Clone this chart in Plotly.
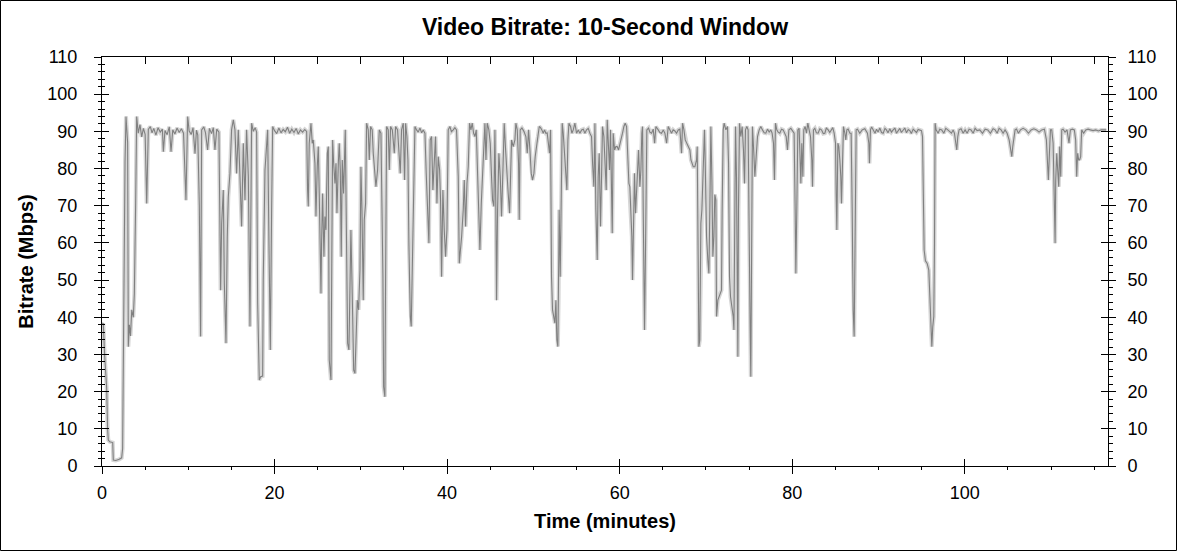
import plotly.graph_objects as go

# (minute, Mbps) pairs, split by time span
seg_00_24 = [
    (0.0, 38.0), (0.15, 38.4), (0.3, 30.0), (0.54, 21.0), (0.65, 10.0), (0.73, 7.0),
    (0.9, 6.5), (1.24, 6.3), (1.31, 1.6), (1.6, 1.5), (2.0, 1.8), (2.28, 2.2),
    (2.39, 4.7), (2.47, 33.0), (2.67, 82.0), (2.78, 94.0), (2.86, 90.0), (2.97, 87.0),
    (3.05, 32.1), (3.17, 38.0), (3.3, 35.0), (3.45, 42.0), (3.63, 40.0), (3.75, 46.4),
    (3.9, 70.6), (4.02, 94.0), (4.2, 89.5), (4.4, 91.8), (4.6, 88.5), (4.8, 90.8),
    (5.0, 89.2), (5.18, 70.6), (5.37, 90.5), (5.6, 91.3), (5.8, 89.6), (6.0, 90.8),
    (6.25, 89.0), (6.5, 91.0), (6.75, 89.8), (7.0, 90.6), (7.11, 84.5), (7.3, 90.2),
    (7.55, 89.1), (7.8, 91.2), (8.0, 84.5), (8.2, 90.4), (8.45, 89.3), (8.7, 90.9),
    (8.95, 89.7), (9.2, 90.7), (9.45, 89.5), (9.73, 71.5), (9.93, 94.0), (10.1, 90.1),
    (10.35, 89.2), (10.55, 91.0), (10.78, 84.0), (10.95, 90.3), (11.1, 89.0), (11.28, 70.0),
    (11.43, 34.8), (11.55, 90.4), (11.8, 91.2), (12.0, 89.6), (12.24, 85.0), (12.45, 90.8),
    (12.7, 89.4), (12.9, 91.0), (13.09, 85.0), (13.3, 90.6), (13.55, 89.8), (13.67, 70.0),
    (13.75, 47.3), (13.87, 65.3), (14.06, 74.2), (14.18, 49.1), (14.37, 33.0), (14.52, 61.7),
    (14.64, 72.4), (14.83, 78.7), (15.02, 90.4), (15.22, 93.1), (15.41, 90.4), (15.6, 78.7),
    (15.8, 90.4), (15.99, 77.8), (16.18, 64.4), (16.38, 86.8), (16.57, 71.5), (16.76, 90.4),
    (16.96, 77.8), (17.15, 37.5), (17.34, 92.2), (17.54, 90.0), (17.75, 91.0), (17.92, 89.8),
    (18.04, 44.0), (18.23, 23.1), (18.39, 24.0), (18.62, 24.2), (18.69, 50.0), (18.89, 79.6),
    (19.08, 87.7), (19.2, 90.4), (19.35, 59.9), (19.51, 31.2), (19.66, 69.0), (19.78, 91.3),
    (20.0, 90.2), (20.25, 89.4), (20.5, 90.9), (20.75, 89.6), (21.0, 90.5), (21.25, 89.9),
    (21.5, 91.1), (21.75, 89.5), (22.0, 90.6), (22.25, 89.7), (22.5, 90.8), (22.75, 89.3),
    (23.0, 90.4), (23.25, 89.8), (23.5, 90.5), (23.72, 90.0),
]

seg_24_48 = [
    (23.83, 74.2), (23.91, 69.8), (24.02, 86.8), (24.22, 92.2), (24.37, 86.8), (24.49, 87.7),
    (24.68, 81.4), (24.8, 67.1), (24.95, 80.5), (25.07, 85.9), (25.18, 73.3), (25.26, 59.0),
    (25.38, 46.4), (25.45, 59.9), (25.57, 73.3), (25.72, 56.3), (25.84, 67.1), (25.96, 63.5),
    (26.11, 84.1), (26.23, 85.9), (26.34, 28.5), (26.54, 23.1), (26.61, 53.6), (26.73, 87.7),
    (26.85, 81.4), (27.0, 76.0), (27.12, 81.4), (27.23, 68.0), (27.39, 81.4), (27.5, 86.8),
    (27.62, 79.6), (27.73, 56.3), (27.85, 82.3), (28.0, 73.3), (28.2, 90.4), (28.35, 61.7),
    (28.47, 33.0), (28.62, 31.2), (28.74, 46.4), (28.85, 63.5), (29.01, 45.5), (29.17, 25.8),
    (29.32, 24.9), (29.47, 37.5), (29.59, 44.6), (29.74, 42.0), (29.9, 52.7), (30.01, 80.5),
    (30.13, 68.9), (30.28, 44.6), (30.4, 66.2), (30.55, 70.6), (30.67, 92.2), (30.86, 90.4),
    (30.98, 82.3), (31.13, 91.3), (31.32, 90.4), (31.44, 84.1), (31.63, 79.6), (31.75, 75.1),
    (31.94, 79.6), (32.14, 90.4), (32.33, 89.5), (32.45, 68.9), (32.56, 50.9), (32.64, 21.3),
    (32.79, 18.6), (32.87, 50.9), (32.99, 91.3), (33.18, 90.4), (33.3, 79.6), (33.45, 91.3),
    (33.65, 90.4), (33.88, 84.1), (34.03, 91.3), (34.26, 90.4), (34.42, 85.0), (34.57, 78.7),
    (34.72, 90.4), (34.92, 92.2), (35.07, 76.9), (35.19, 92.2), (35.34, 88.6), (35.46, 82.3),
    (35.57, 59.9), (35.73, 40.2), (35.84, 37.5), (35.96, 50.9), (36.08, 73.3), (36.27, 91.3),
    (36.46, 90.4), (36.65, 89.8), (36.85, 90.9), (37.05, 89.6), (37.23, 90.4), (37.43, 89.5),
    (37.58, 78.7), (37.74, 67.1), (37.89, 59.9), (38.04, 87.7), (38.2, 88.6), (38.35, 74.2),
    (38.51, 84.1), (38.66, 88.6), (38.82, 70.6), (38.97, 83.2), (39.13, 79.6), (39.24, 71.5),
    (39.36, 50.9), (39.51, 74.2), (39.67, 63.5), (39.82, 56.3), (39.98, 63.5), (40.13, 90.4),
    (40.32, 91.3), (40.5, 89.9), (40.71, 90.4), (40.9, 91.0), (41.09, 90.4), (41.29, 77.8),
    (41.41, 54.5), (41.52, 57.2), (41.68, 61.7), (41.87, 68.9), (41.99, 76.9), (42.14, 64.4),
    (42.3, 76.0), (42.45, 80.5), (42.6, 92.2), (42.76, 90.4), (42.91, 92.2), (43.07, 89.5),
    (43.22, 88.6), (43.38, 90.4), (43.53, 77.8), (43.69, 65.3), (43.8, 58.1), (43.96, 70.6),
    (44.11, 77.8), (44.27, 85.0), (44.38, 92.2), (44.5, 82.3), (44.65, 92.2), (44.84, 90.4),
    (45.0, 86.8), (45.15, 77.8), (45.27, 71.5), (45.42, 69.8), (45.54, 90.4), (45.65, 68.9),
    (45.73, 44.6), (45.85, 68.9), (46.0, 84.1), (46.16, 77.8), (46.31, 67.1), (46.47, 79.6),
    (46.62, 92.2), (46.78, 85.0), (46.93, 77.8), (47.08, 73.3), (47.24, 68.0), (47.39, 77.8),
    (47.47, 87.7), (47.66, 85.9), (47.86, 87.7),
]

seg_48_71 = [
    (47.97, 92.2), (48.13, 90.4), (48.28, 81.4), (48.36, 66.2), (48.47, 90.4), (48.67, 90.9),
    (48.9, 90.0), (49.13, 88.6), (49.29, 84.1), (49.44, 90.4), (49.6, 85.0), (49.75, 78.7),
    (49.9, 76.9), (50.06, 78.7), (50.21, 83.2), (50.37, 86.8), (50.52, 88.6), (50.68, 91.3),
    (50.83, 91.0), (50.98, 90.4), (51.14, 89.5), (51.29, 90.4), (51.45, 89.5), (51.6, 89.6),
    (51.76, 85.9), (51.87, 84.1), (51.99, 90.4), (52.1, 50.9), (52.22, 42.0), (52.38, 40.2),
    (52.49, 38.4), (52.61, 44.6), (52.72, 33.9), (52.84, 32.1), (52.92, 44.6), (52.99, 68.9),
    (53.11, 50.9), (53.23, 73.3), (53.34, 92.2), (53.46, 89.5), (53.61, 84.1), (53.77, 77.8),
    (53.88, 74.2), (54.0, 87.7), (54.12, 92.2), (54.31, 91.3), (54.46, 89.5), (54.62, 90.4),
    (54.81, 92.2), (55.0, 89.5), (55.2, 90.4), (55.39, 89.5), (55.59, 90.4), (55.78, 90.6),
    (55.97, 89.5), (56.16, 90.4), (56.36, 90.8), (56.55, 89.5), (56.74, 88.6), (56.86, 81.4),
    (57.01, 75.1), (57.13, 92.2), (57.24, 68.9), (57.4, 55.4), (57.51, 77.8), (57.63, 84.1),
    (57.78, 64.4), (57.9, 77.8), (58.01, 91.3), (58.17, 88.6), (58.32, 82.3), (58.44, 74.2),
    (58.56, 93.1), (58.71, 85.0), (58.83, 79.6), (58.94, 90.4), (59.06, 77.8), (59.14, 62.6),
    (59.25, 89.5), (59.41, 85.0), (59.56, 85.9), (59.71, 85.9), (59.87, 85.0), (60.02, 86.8),
    (60.18, 88.6), (60.33, 89.5), (60.49, 91.3), (60.64, 92.2), (60.8, 91.3), (60.95, 82.3),
    (61.07, 76.0), (61.18, 75.1), (61.3, 68.9), (61.41, 61.7), (61.49, 50.0), (61.61, 68.9),
    (61.72, 78.7), (61.84, 68.0), (61.95, 72.4), (62.11, 78.7), (62.19, 85.0), (62.34, 75.1),
    (62.46, 79.6), (62.57, 89.5), (62.65, 91.3), (62.73, 68.9), (62.8, 50.9), (62.88, 36.6),
    (62.96, 50.9), (63.04, 77.8), (63.15, 90.4), (63.35, 90.9), (63.5, 89.8), (63.7, 89.5),
    (63.89, 90.6), (64.05, 86.8), (64.2, 91.3), (64.47, 90.4), (64.66, 89.7), (64.85, 89.5),
    (65.05, 90.4), (65.24, 89.5), (65.44, 86.8), (65.63, 91.3), (65.82, 90.4), (66.01, 89.5),
    (66.2, 90.4), (66.4, 90.1), (66.59, 89.5), (66.79, 90.4), (66.98, 90.6), (67.17, 84.1),
    (67.29, 92.2), (67.45, 90.4), (67.6, 87.7), (67.76, 86.8), (67.95, 85.9), (68.14, 85.0),
    (68.26, 82.3), (68.37, 81.4), (68.53, 80.5), (68.72, 80.5), (68.91, 82.3), (68.99, 85.9),
    (69.06, 53.6), (69.18, 32.1), (69.29, 33.9), (69.41, 65.3), (69.53, 68.9), (69.68, 82.3),
    (69.83, 90.4), (69.91, 82.3), (70.07, 61.7), (70.22, 55.4), (70.34, 51.8), (70.45, 68.9),
    (70.57, 91.3), (70.69, 76.9), (70.8, 56.3), (70.92, 61.7), (71.03, 73.0), (71.15, 71.5),
    (71.23, 40.2),
]

seg_71_95 = [
    (71.38, 44.6), (71.54, 45.5), (71.7, 46.5), (71.8, 47.3), (71.88, 68.9), (72.0, 90.4),
    (72.11, 92.2), (72.31, 90.4), (72.5, 91.3), (72.62, 81.4), (72.73, 50.9), (72.85, 45.5),
    (73.0, 42.9), (73.16, 40.2), (73.24, 36.6), (73.35, 68.9), (73.43, 91.3), (73.54, 77.8),
    (73.62, 49.1), (73.7, 29.4), (73.77, 68.9), (73.89, 92.2), (74.04, 88.6), (74.2, 91.3),
    (74.35, 85.0), (74.47, 76.0), (74.58, 90.4), (74.74, 91.3), (74.89, 90.4), (75.01, 50.9),
    (75.12, 37.5), (75.2, 24.0), (75.28, 59.9), (75.39, 91.3), (75.55, 84.1), (75.67, 77.8),
    (75.82, 83.2), (75.98, 88.6), (76.17, 90.4), (76.36, 91.3), (76.55, 90.4), (76.75, 89.6),
    (76.94, 89.5), (77.13, 90.6), (77.33, 89.8), (77.52, 90.4), (77.67, 89.5), (77.83, 86.8),
    (77.94, 76.9), (78.06, 92.2), (78.21, 90.4), (78.37, 89.8), (78.56, 89.5), (78.76, 90.6),
    (78.95, 90.4), (79.14, 89.5), (79.3, 88.6), (79.45, 85.0), (79.61, 90.4), (79.84, 90.8),
    (80.07, 89.8), (80.22, 89.5), (80.34, 68.9), (80.42, 51.8), (80.53, 68.9), (80.65, 90.4),
    (80.8, 90.8), (80.92, 79.6), (81.0, 76.0), (81.11, 86.8), (81.23, 77.8), (81.34, 90.4),
    (81.5, 91.3), (81.65, 89.5), (81.81, 92.2), (81.96, 90.4), (82.12, 88.6), (82.27, 82.3),
    (82.35, 75.1), (82.46, 90.4), (82.62, 90.8), (82.8, 89.6), (83.0, 89.5), (83.2, 90.7),
    (83.39, 90.4), (83.6, 89.4), (83.78, 89.5), (83.95, 90.9), (84.17, 90.4), (84.35, 89.7),
    (84.55, 90.4), (84.7, 91.0), (84.86, 89.5), (85.02, 86.8), (85.09, 73.3), (85.17, 63.5),
    (85.29, 86.8), (85.4, 85.9), (85.52, 82.3), (85.63, 77.8), (85.71, 70.6), (85.83, 86.8),
    (85.94, 91.3), (86.1, 89.5), (86.21, 87.7), (86.33, 90.4), (86.48, 90.6), (86.68, 89.5),
    (86.83, 89.5), (86.95, 68.9), (87.06, 42.0), (87.18, 34.8), (87.29, 59.9), (87.41, 90.4),
    (87.56, 90.6), (87.83, 89.5), (88.1, 90.4), (88.41, 90.7), (88.72, 89.5), (88.88, 86.8),
    (88.95, 81.4), (89.07, 90.4), (89.2, 91.2), (89.38, 90.4), (89.6, 89.5), (89.77, 90.6),
    (89.95, 89.8), (90.15, 90.9), (90.35, 89.7), (90.54, 89.5), (90.75, 90.8), (90.92, 90.4),
    (91.1, 89.6), (91.31, 90.7), (91.5, 89.8), (91.7, 90.4), (91.9, 90.9), (92.08, 89.5),
    (92.3, 90.3), (92.47, 90.8), (92.65, 89.7), (92.86, 90.4), (93.05, 90.9), (93.24, 89.6),
    (93.45, 90.5), (93.63, 90.2), (93.8, 89.4), (94.02, 90.6), (94.2, 90.1), (94.4, 89.7),
    (94.6, 90.5), (94.79, 90.4), (94.98, 90.2), (95.1, 88.6),
]

seg_95_117 = [
    (95.17, 68.9), (95.29, 58.1), (95.44, 55.2), (95.64, 54.5), (95.83, 52.7), (95.94, 45.5),
    (96.06, 42.0), (96.18, 32.1), (96.29, 37.5), (96.41, 40.2), (96.49, 59.9), (96.56, 92.2),
    (96.68, 90.4), (96.91, 89.5), (97.1, 90.6), (97.33, 90.4), (97.57, 89.5), (97.8, 90.8),
    (98.03, 90.4), (98.26, 89.9), (98.46, 89.5), (98.65, 90.4), (98.8, 89.5), (98.96, 86.8),
    (99.07, 85.0), (99.19, 88.6), (99.34, 90.4), (99.57, 90.7), (99.81, 89.5), (100.04, 90.4),
    (100.27, 89.5), (100.5, 90.6), (100.73, 90.4), (100.97, 89.5), (101.2, 90.8), (101.43, 90.2),
    (101.74, 90.4), (102.05, 89.5), (102.36, 90.6), (102.67, 90.4), (102.97, 89.5), (103.28, 90.7),
    (103.52, 90.4), (103.75, 89.5), (103.98, 90.8), (104.21, 90.4), (104.44, 89.5), (104.67, 90.4),
    (104.91, 89.5), (105.14, 87.7), (105.29, 85.9), (105.45, 83.2), (105.56, 85.9), (105.72, 89.5),
    (105.83, 90.4), (105.99, 90.6), (106.22, 89.5), (106.45, 90.4), (106.76, 90.8), (107.07, 90.4),
    (107.38, 89.5), (107.69, 90.4), (108.0, 90.7), (108.31, 90.4), (108.61, 89.8), (108.92, 90.4),
    (109.23, 90.6), (109.46, 87.7), (109.62, 81.4), (109.69, 76.9), (109.81, 84.1), (109.93, 90.4),
    (110.08, 90.4), (110.24, 86.8), (110.35, 74.2), (110.47, 59.9), (110.54, 76.9), (110.66, 84.1),
    (110.77, 79.6), (110.89, 75.1), (111.0, 85.9), (111.12, 77.8), (111.24, 90.4), (111.39, 90.6),
    (111.62, 89.8), (111.85, 90.4), (112.08, 86.8), (112.24, 90.4), (112.47, 90.6), (112.7, 90.4),
    (112.85, 87.7), (112.97, 77.8), (113.08, 84.1), (113.2, 82.3), (113.31, 82.3), (113.43, 83.2),
    (113.55, 90.4), (113.78, 89.5), (114.02, 90.4), (114.29, 90.6), (114.56, 90.4), (114.87, 90.2),
    (115.18, 90.4), (115.49, 90.1), (115.8, 90.4), (116.11, 90.3), (116.4, 90.4),
]

segments = [seg_00_24, seg_24_48, seg_48_71, seg_71_95, seg_95_117]
minutes = [t for seg in segments for t, _ in seg]
mbps = [v for seg in segments for _, v in seg]

x_range = [0, 116.6]
y_range = [0, 110]

FONT = "Liberation Sans, Arial, sans-serif"

fig = go.Figure()

# light halo under the main line
fig.add_trace(go.Scatter(x=minutes, y=mbps, mode="lines",
                         line=dict(color="#d6d6d6", width=4),
                         hoverinfo="skip", showlegend=False))
fig.add_trace(go.Scatter(x=minutes, y=mbps, mode="lines",
                         line=dict(color="#808080", width=1.1),
                         name="Bitrate", showlegend=False))

# empty traces so the tick-only overlay axes get drawn
fig.add_trace(go.Scatter(x=[None], y=[None], xaxis="x2", yaxis="y2",
                         showlegend=False, hoverinfo="skip"))
fig.add_trace(go.Scatter(x=[None], y=[None], xaxis="x3", yaxis="y3",
                         showlegend=False, hoverinfo="skip"))
fig.add_trace(go.Scatter(x=[None], y=[None], xaxis="x", yaxis="y4",
                         showlegend=False, hoverinfo="skip"))

tick_font = dict(family=FONT, size=18, color="black")
title_font = dict(family=FONT, size=20, color="black", weight="bold")

fig.update_layout(
    width=1178, height=552,
    template="none",
    paper_bgcolor="white", plot_bgcolor="white",
    margin=dict(l=102, r=70, t=57, b=86),
    title=dict(text="Video Bitrate: 10-Second Window", x=0.5, xref="paper",
               xanchor="center", y=1 - 27 / 552, yanchor="middle",
               font=dict(family=FONT, size=23, color="black", weight="bold")),
    xaxis=dict(range=x_range, dtick=20, ticks="outside", ticklen=7, tickcolor="black",
               showline=True, linecolor="black", linewidth=1, showgrid=False,
               zeroline=False, tickfont=tick_font, ticklabelstandoff=3,
               minor=dict(dtick=5, ticks="outside", ticklen=3, tickcolor="black"),
               title=dict(text="Time (minutes)", font=title_font, standoff=12)),
    xaxis2=dict(range=x_range, overlaying="x", dtick=20, ticks="inside", ticklen=7,
                tickcolor="black", showticklabels=False, showgrid=False,
                zeroline=False, showline=False),
    xaxis3=dict(range=x_range, overlaying="x", side="top", dtick=5, ticks="inside",
                ticklen=7, tickcolor="black", showticklabels=False, showgrid=False,
                zeroline=False, showline=True, linecolor="black", linewidth=1),
    yaxis=dict(range=y_range, dtick=10, ticks="outside", ticklen=7, tickcolor="black",
               showline=True, linecolor="black", linewidth=1, showgrid=False,
               zeroline=False, tickfont=tick_font, ticklabelstandoff=13,
               minor=dict(dtick=2, ticks="outside", ticklen=3, tickcolor="black"),
               title=dict(text="Bitrate (Mbps)", font=title_font, standoff=8)),
    yaxis2=dict(range=y_range, overlaying="y", dtick=10, ticks="inside", ticklen=7,
                tickcolor="black", showticklabels=False, showgrid=False,
                zeroline=False, showline=False,
                minor=dict(dtick=2, ticks="inside", ticklen=3, tickcolor="black")),
    yaxis3=dict(range=y_range, overlaying="y", side="right", dtick=10, ticks="outside",
                ticklen=7, tickcolor="black", showline=True, linecolor="black",
                linewidth=1, showgrid=False, zeroline=False, tickfont=tick_font,
                ticklabelstandoff=8,
                minor=dict(dtick=2, ticks="outside", ticklen=4, tickcolor="black")),
    yaxis4=dict(range=y_range, overlaying="y", side="right", dtick=10, ticks="inside",
                ticklen=7, tickcolor="black", showticklabels=False, showgrid=False,
                zeroline=False, showline=False),
    shapes=[dict(type="rect", xref="paper", yref="paper",
                 x0=(0.5 - 102) / 1006, x1=(1176.5 - 102) / 1006,
                 y0=(466 - 550.5) / 409, y1=(466 - 0.5) / 409,
                 line=dict(color="black", width=1), fillcolor="rgba(0,0,0,0)")],
)

# the page's default 8px body margin would shift the whole chart
fig.write_html("out.html", config={"displayModeBar": False},
               post_script="document.body.style.margin = '0';")
